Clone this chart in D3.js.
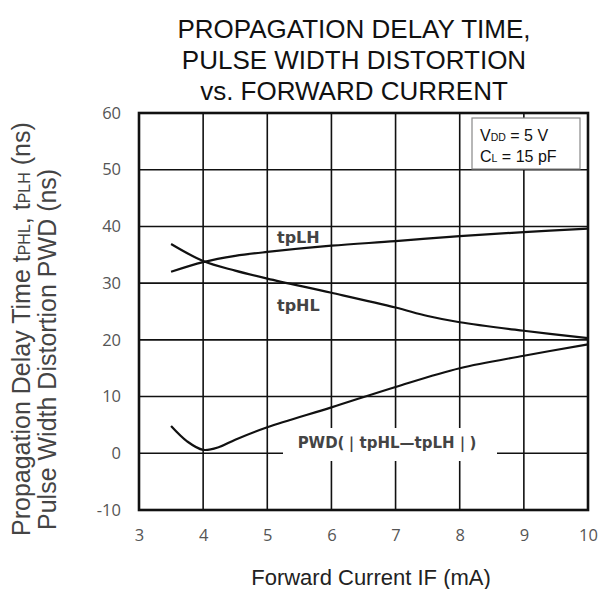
<!DOCTYPE html>
<html>
<head>
<meta charset="utf-8">
<script src="https://cdn.jsdelivr.net/npm/d3@7"></script>
<style>
  body { margin: 0; background: #fff; }
</style>
</head>
<body>
<div id="chart"></div>
<script>
// readings
const xTicks = [3, 4, 5, 6, 7, 8, 9, 10];
const yTicks = [-10, 0, 10, 20, 30, 40, 50, 60];

const lhCurrent = [3.5, 4, 4.5, 5, 6, 7, 8, 9, 10];
const lhDelay   = [32.0, 33.7, 34.8, 35.5, 36.6, 37.4, 38.3, 39.0, 39.6];

const hlCurrent = [3.5, 4, 4.5, 5, 6, 7, 7.5, 8, 9, 10];
const hlDelay   = [36.9, 33.9, 32.2, 30.8, 28.3, 25.7, 24.2, 23.1, 21.6, 20.3];

const pwdCurrent = [3.5, 3.75, 4, 4.25, 4.5, 5, 6, 7, 8, 9, 10];
const pwdValue   = [4.8, 2.1, 0.6, 1.1, 2.4, 4.6, 8.1, 11.7, 15.0, 17.2, 19.2];

const W = 600, H = 589;
const plot = {left: 139, right: 588, top: 113, bottom: 510};

const svg = d3.select("#chart").append("svg")
    .attr("width", W)
    .attr("height", H);

const x = d3.scaleLinear().domain([3, 10]).range([plot.left, plot.right]);
const y = d3.scaleLinear().domain([-10, 60]).range([plot.bottom, plot.top]);

// title
const title = ["PROPAGATION DELAY TIME,", "PULSE WIDTH DISTORTION", "vs. FORWARD CURRENT"];
svg.append("text")
    .attr("x", 354).attr("y", 38)
    .attr("text-anchor", "middle")
    .style("font-family", "Liberation Sans, Arial, sans-serif")
    .style("font-size", "26px")
    .style("fill", "#111")
  .selectAll("tspan")
  .data(title)
  .join("tspan")
    .attr("x", 354)
    .attr("dy", (d, i) => i ? 31 : 0)
    .text(d => d);

// grid
const grid = svg.append("g");
grid.selectAll(".vg")
  .data(xTicks.slice(1, -1))
  .join("line")
    .attr("x1", d => x(d)).attr("x2", d => x(d))
    .attr("y1", plot.top).attr("y2", plot.bottom)
    .style("stroke", "#111").style("stroke-width", 1.6);
grid.selectAll(".hg")
  .data(yTicks.slice(1, -1))
  .join("line")
    .attr("x1", plot.left).attr("x2", plot.right)
    .attr("y1", d => y(d)).attr("y2", d => y(d))
    .style("stroke", "#111").style("stroke-width", 1.6);

// frame
svg.append("rect")
    .attr("x", plot.left).attr("y", plot.top)
    .attr("width", plot.right - plot.left).attr("height", plot.bottom - plot.top)
    .style("fill", "none")
    .style("stroke", "#111")
    .style("stroke-width", 2.6);

// axes (labels only, the frame carries the lines)
const tickFont = "Open Sans, Calibri, sans-serif";
const xAxis = svg.append("g")
    .attr("transform", `translate(0,${plot.bottom + 16})`)
    .call(d3.axisBottom(x).tickValues(xTicks).tickSize(0).tickFormat(d => String(d)));
const yAxis = svg.append("g")
    .attr("transform", `translate(${plot.left - 15},0)`)
    .call(d3.axisLeft(y).tickValues(yTicks).tickSize(0).tickFormat(d => String(d)));
[xAxis, yAxis].forEach(a => {
  a.select(".domain").remove();
  a.selectAll("text")
    .style("font-family", tickFont)
    .style("font-size", "16.5px")
    .style("fill", "#555");
});

// curves
const line = d3.line()
    .x(d => x(d[0]))
    .y(d => y(d[1]))
    .curve(d3.curveCatmullRom.alpha(0.5));

const series = [
  d3.zip(lhCurrent, lhDelay),
  d3.zip(hlCurrent, hlDelay),
  d3.zip(pwdCurrent, pwdValue)
];

svg.selectAll(".curve")
  .data(series)
  .join("path")
    .attr("class", "curve")
    .attr("d", line)
    .style("fill", "none")
    .style("stroke", "#111")
    .style("stroke-width", 2.2);

// curve labels
const labelFont = "DejaVu Sans, Verdana, sans-serif";
svg.append("text")
    .attr("x", 277).attr("y", 243)
    .text("tpLH")
    .style("font-family", labelFont).style("font-weight", "bold")
    .style("font-size", "16px").style("fill", "#444");
svg.append("text")
    .attr("x", 277).attr("y", 311)
    .text("tpHL")
    .style("font-family", labelFont).style("font-weight", "bold")
    .style("font-size", "16px").style("fill", "#444");

svg.append("rect")
    .attr("x", 283).attr("y", 428)
    .attr("width", 214).attr("height", 33)
    .style("fill", "#fff");
svg.append("text")
    .attr("x", 387).attr("y", 448)
    .attr("text-anchor", "middle")
    .text("PWD(｜tpHL—tpLH｜)")
    .style("font-family", labelFont).style("font-weight", "bold")
    .style("font-size", "15px").style("fill", "#444");

// condition box
svg.append("rect")
    .attr("x", 472).attr("y", 118)
    .attr("width", 108).attr("height", 51)
    .style("fill", "#fff")
    .style("stroke", "#888")
    .style("stroke-width", 1.2);
const cond = svg.append("g")
    .style("font-family", "Liberation Sans, Arial, sans-serif")
    .style("fill", "#111");
const t1 = cond.append("text").attr("x", 480).attr("y", 141).style("font-size", "16px");
t1.append("tspan").text("V");
t1.append("tspan").style("font-size", "10.5px").text("DD");
t1.append("tspan").text(" = 5 V");
const t2 = cond.append("text").attr("x", 480).attr("y", 162).style("font-size", "16px");
t2.append("tspan").text("C");
t2.append("tspan").style("font-size", "10.5px").text("L");
t2.append("tspan").text(" = 15 pF");

// y axis title, two lines
const yt = svg.append("g")
    .style("font-family", "Liberation Sans, Arial, sans-serif")
    .style("font-size", "25px")
    .style("fill", "#444");
const y1 = yt.append("text")
    .attr("transform", "translate(30,536) rotate(-90)");
y1.append("tspan").text("Propagation Delay Time t");
y1.append("tspan").style("font-size", "16px").text("PHL");
y1.append("tspan").text(",  t");
y1.append("tspan").style("font-size", "16px").text("PLH");
y1.append("tspan").text(" (ns)");
yt.append("text")
    .attr("transform", "translate(56,530) rotate(-90)")
    .text("Pulse Width Distortion PWD (ns)");

// x axis title
svg.append("text")
    .attr("x", 371).attr("y", 585)
    .attr("text-anchor", "middle")
    .text("Forward Current IF (mA)")
    .style("font-family", "Liberation Sans, Arial, sans-serif")
    .style("font-size", "22px")
    .style("fill", "#222");
</script>
</body>
</html>
